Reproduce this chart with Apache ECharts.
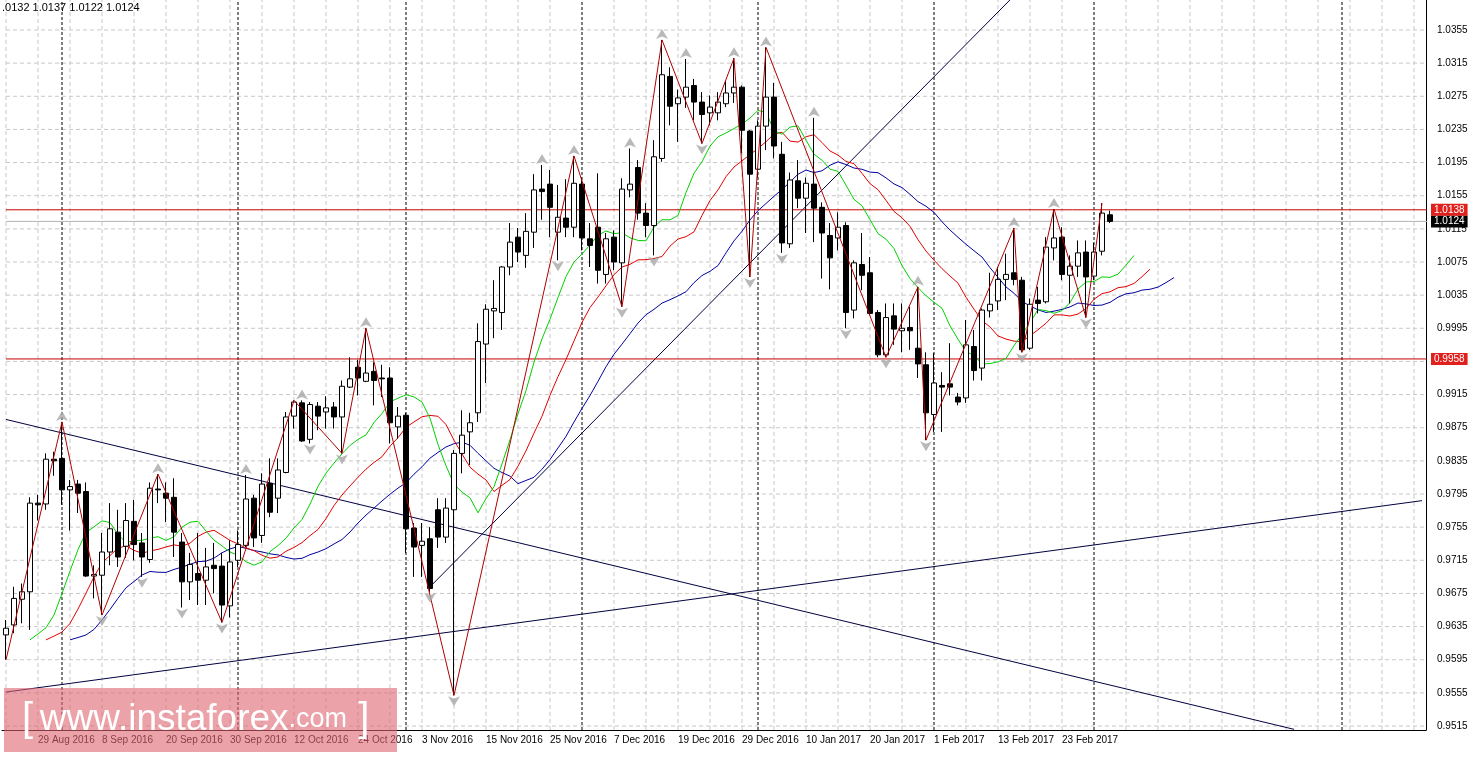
<!DOCTYPE html>
<html><head><meta charset="utf-8">
<script src="https://cdn.jsdelivr.net/npm/echarts@6/dist/echarts.min.js"></script>
<style>html,body{margin:0;padding:0;background:#fff}#c{width:1470px;height:757px}</style>
</head><body><div id="c"></div>
<script>
const openP=[.9625,.9637,.9668,.9677,.9784,.9783,.9837,.9838,.9800,.9807,
.9798,.9696,.9697,.9725,.9749,.9732,.9762,.9736,.9716,.9801,
.9796,.9791,.9737,.9689,.9699,.9691,.9709,.9708,.9660,.9715,
.9733,.9790,.9745,.9808,.9790,.9821,.9889,.9905,.9861,.9901,
.9894,.9900,.9888,.9924,.9948,.9931,.9943,.9935,.9935,.9876,
.9890,.9754,.9733,.9741,.9776,.9743,.9776,.9844,.9870,.9893,
.9976,1.0016,1.0014,1.0069,1.0105,1.0083,1.0111,1.0163,1.0169,1.0111,
1.0128,1.0117,1.0169,1.0103,1.0117,1.0060,1.0105,1.0074,1.0162,1.0189,
1.0134,1.0119,1.0200,1.0299,1.0266,1.0274,1.0288,1.0268,1.0255,1.0255,
1.0266,1.0279,1.0286,1.0233,1.0187,1.0239,1.0274,1.0205,1.0097,1.0173,
1.0152,1.0169,1.0141,1.0107,1.0104,1.0119,1.0017,1.0072,1.0062,1.0014,
.9963,1.0010,.9992,.9996,.9971,.9951,.9891,.9926,.9928,.9912,
.9911,.9973,.9947,1.0016,1.0028,1.0054,1.0062,1.0053,.9971,1.0029,
1.0027,1.0092,1.0105,1.0059,1.0070,1.0087,1.0058,1.0088,1.0132];
const closeP=[.9633,.9669,.9677,.9784,.9782,.9837,.9835,.9800,.9804,.9796,
.9696,.9698,.9725,.9753,.9719,.9763,.9734,.9719,.9802,.9800,
.9790,.9749,.9689,.9710,.9691,.9707,.9705,.9661,.9713,.9734,
.9789,.9742,.9807,.9773,.9824,.9888,.9906,.9859,.9903,.9889,
.9899,.9888,.9925,.9934,.9935,.9941,.9932,.9934,.9881,.9889,
.9753,.9731,.9738,.9681,.9743,.9778,.9844,.9866,.9881,.9979,
1.0018,1.0019,1.0069,1.0099,1.0087,1.0112,1.0162,1.0160,1.0141,1.0129,
1.0117,1.0170,1.0104,1.0095,1.0065,1.0103,1.0075,1.0163,1.0169,1.0134,
1.0119,1.0202,1.0301,1.0263,1.0273,1.0286,1.0268,1.0253,1.0262,1.0268,
1.0279,1.0286,1.0234,1.0181,1.0239,1.0274,1.0215,1.0098,1.0174,1.0152,
1.0170,1.0140,1.0110,1.0080,1.0117,1.0014,1.0074,1.0059,1.0013,.9963,
1.0008,.9994,.9995,.9992,.9952,.9893,.9929,.9924,.9924,.9906,
.9975,.9944,1.0017,1.0024,1.0054,1.0060,1.0054,.9969,1.0024,1.0025,
1.0093,1.0104,1.0060,1.0070,1.0086,1.0057,1.0087,1.0134,1.0124];
const lowP=[.9595,.9627,.9639,.9631,.9763,.9776,.9817,.9782,.9751,.9772,
.9695,.9669,.9649,.9709,.9707,.9718,.9715,.9695,.9712,.9784,
.9761,.9719,.9658,.9667,.9661,.9661,.9675,.9640,.9646,.9707,
.9731,.9731,.9736,.9767,.9772,.9820,.9874,.9858,.9856,.9872,
.9874,.9874,.9844,.9923,.9914,.9930,.9902,.9912,.9856,.9862,
.9724,.9695,.9695,.9677,.9730,.9736,.9552,.9820,.9830,.9882,
.9929,.9983,.9993,1.0059,1.0075,1.0068,1.0092,1.0126,1.0105,1.0077,
1.0105,1.0105,1.0089,1.0069,1.0049,1.0049,1.0065,1.0021,1.0153,1.0126,
1.0105,1.0083,1.0196,1.0240,1.0220,1.0261,1.0246,1.0218,1.0240,1.0246,
1.0262,1.0267,1.0206,1.0057,1.0177,1.0210,1.0200,1.0086,1.0092,1.0140,
1.0110,1.0099,1.0055,1.0042,1.0089,.9995,1.0007,1.0041,1.0011,.9960,
.9960,.9975,.9966,.9969,.9935,.9860,.9870,.9870,.9914,.9902,
.9905,.9932,.9932,1.0008,1.0017,1.0029,1.0047,.9966,.9969,1.0013,
1.0025,1.0077,1.0053,1.0025,1.0057,1.0008,1.0053,1.0083,1.0122];
const highP=[.9643,.9683,.9687,.9791,.9794,.9844,.9846,.9882,.9812,.9812,
.9809,.9709,.9748,.9784,.9776,.9784,.9788,.9748,.9809,.9819,
.9809,.9814,.9748,.9724,.9748,.9730,.9736,.9724,.9739,.9751,
.9818,.9794,.9820,.9838,.9838,.9894,.9908,.9908,.9906,.9906,
.9913,.9906,.9932,.9960,.9957,.9995,.9954,.9951,.9948,.9900,
.9893,.9760,.9760,.9755,.9790,.9790,.9848,.9896,.9893,1.0001,
1.0024,1.0053,1.0070,1.0122,1.0116,1.0134,1.0181,1.0192,1.0186,1.0168,
1.0175,1.0203,1.0177,1.0122,1.0182,1.0110,1.0113,1.0176,1.0212,1.0198,
1.0146,1.0222,1.0343,1.0310,1.0283,1.0320,1.0296,1.0280,1.0276,1.0280,
1.0294,1.0321,1.0288,1.0234,1.0246,1.0334,1.0291,1.0220,1.0183,1.0198,
1.0177,1.0249,1.0147,1.0122,1.0135,1.0123,1.0077,1.0110,1.0081,1.0017,
1.0025,1.0025,1.0025,1.0021,1.0045,.9966,.9965,.9942,.9977,.9917,
1.0005,.9993,1.0019,1.0062,1.0069,1.0085,1.0116,1.0057,1.0031,1.0045,
1.0105,1.0139,1.0117,1.0083,1.0101,1.0101,1.0098,1.0146,1.0137];
const zigIdx=[0,7,12,19,27,36,42,45,56,71,77,82,87,91,93,95,110,114,115,126,127,131,135,137];
const zigPrice=[.9595,.9882,.9649,.9819,.9640,.9908,.9844,.9995,.9552,1.0203,1.0021,1.0343,1.0218,1.0321,1.0057,1.0334,.9960,1.0045,.9860,1.0116,.9966,1.0139,1.0008,1.0146];
const fracUp=[7,19,30,37,45,67,71,78,82,85,91,95,101,114,126,131];
const fracDown=[12,17,22,27,38,42,53,56,69,77,81,87,93,97,105,110,115,127,135];
const yTicks=[0.9515,0.9555,0.9595,0.9635,0.9675,0.9715,0.9755,0.9795,0.9835,0.9875,0.9915,0.9955,0.9995,1.0035,1.0075,1.0115,1.0155,1.0195,1.0235,1.0275,1.0315,1.0355];
const trendA=[[0,0.9885],[161,0.9511]];
const trendB=[[0,0.9556],[177,0.9787]];
const trendC=[[53,0.9683],[127,1.0406]];
const levelRes=1.0138, levelSup=0.9958, lastPrice=1.0124;
const monthIdx=[7,29,50,72,94,116,136,167];
const NCAT=178;
const YMIN=0.95102, YMAX=1.03912;

const MON=['Jan','Feb','Mar','Apr','May','Jun','Jul','Aug','Sep','Oct','Nov','Dec'];
const dates=[];
let d=new Date(Date.UTC(2016,7,23));
while(dates.length<NCAT){const w=d.getUTCDay();if(w!==0&&w!==6)dates.push(d.getUTCDate()+' '+MON[d.getUTCMonth()]+' '+d.getUTCFullYear());d=new Date(d.getTime()+86400000);}

const candles=openP.map((o,i)=>[o,closeP[i],lowP[i],highP[i]]);
const med=highP.map((h,i)=>(h+lowP[i])/2);
function smma(n,shift){const out=new Array(NCAT).fill(null);let s=med[0];for(let i=0;i<med.length;i++){s=i===0?med[0]:(s*(n-1)+med[i])/n;if(i+shift<NCAT)out[i+shift]=+s.toFixed(5);}return out;}
const jaw=smma(13,8),teeth=smma(8,5),lips=smma(5,3);

const font='Liberation Sans';
const series=[];
function seg(data,color,dash,z,label){
  const s={type:'line',data:data,symbol:'none',showSymbol:false,silent:true,animation:false,z:z,
    lineStyle:{color:color,width:1,type:dash||'solid'}};
  if(label){s.endLabel=Object.assign({show:true,distance:5,fontSize:10,fontFamily:font,padding:[1,3]},label);}
  series.push(s);
}
const L=-0.5,R=NCAT-0.5;
yTicks.forEach(v=>seg([[L,v],[R,v]],'#c8c8c8',[4,3],1,{formatter:v.toFixed(4),color:'#000',distance:7}));
for(let i=0;i<NCAT;i+=4){if(monthIdx.indexOf(i)<0)seg([[i,YMIN],[i,YMAX]],'#c8c8c8',[4,3],1);}
monthIdx.forEach(i=>seg([[i,YMIN],[i,YMAX]],'#000',[3,2],2));
seg(trendA,'#000040',null,3);seg(trendB,'#000040',null,3);seg(trendC,'#000040',null,3);
seg([[L,lastPrice],[R,lastPrice]],'#b4b4b4',null,3,{formatter:lastPrice.toFixed(4),color:'#fff',backgroundColor:'#000',distance:4});
seg([[L,levelRes],[R,levelRes]],'#c80000',null,4,{formatter:levelRes.toFixed(4),color:'#fff',backgroundColor:'#e0201c',distance:4});
seg([[L,levelSup],[R,levelSup]],'#c80000',null,4,{formatter:levelSup.toFixed(4),color:'#fff',backgroundColor:'#e0201c',distance:4});
seg(jaw,'#0000a0',null,5);seg(teeth,'#e00000',null,5);seg(lips,'#00d000',null,5);
series.push({type:'candlestick',data:candles,barWidth:5,z:6,silent:true,
  itemStyle:{color:'#fff',color0:'#000',borderColor:'#000',borderColor0:'#000',borderWidth:1}});
seg(zigIdx.map((x,i)=>[x,zigPrice[i]]),'#b00000',null,7);
series.push({type:'scatter',data:fracUp.map(i=>[i,highP[i]]),symbol:'arrow',symbolSize:[9,10],symbolOffset:[0,-11],itemStyle:{color:'#a8a8a8'},z:7,silent:true});
series.push({type:'scatter',data:fracDown.map(i=>[i,lowP[i]]),symbol:'arrow',symbolRotate:180,symbolSize:[9,10],symbolOffset:[0,11],itemStyle:{color:'#a8a8a8'},z:7,silent:true});

const opt={
 animation:false,
 grid:{left:2,right:44,top:0,bottom:27},
 xAxis:{type:'category',data:dates,boundaryGap:true,
  axisLine:{lineStyle:{color:'#000'}},
  axisTick:{alignWithLabel:true,length:4,interval:(i)=>(i-4)%8===0&&i>=4&&i<=132,lineStyle:{color:'#000'}},
  axisLabel:{interval:(i)=>(i-4)%8===0&&i>=4&&i<=132,align:'left',color:'#000',fontSize:10,fontFamily:font,margin:5},
  splitLine:{show:false}},
 yAxis:{type:'value',position:'right',min:YMIN,max:YMAX,
  axisLine:{show:true,lineStyle:{color:'#000'}},axisTick:{show:false},axisLabel:{show:false},splitLine:{show:false}},
 series:series,
 graphic:[
  {type:'text',left:2,top:2,style:{text:'.0132 1.0137 1.0122 1.0124',fontSize:11,fontFamily:font,fill:'#000'},z:100},
  {type:'rect',shape:{x:4,y:688,width:393,height:64},style:{fill:'rgba(222,100,112,0.6)'},z:100},
  {type:'text',x:22,y:720,style:{text:'{b|[}  {w|www.instaforex}{c|.com}{b| ]}',verticalAlign:'middle',fill:'#fff',fontFamily:font,
   rich:{b:{fontSize:40,fill:'#fff',fontFamily:font},w:{fontSize:37,fill:'#fff',fontFamily:font},c:{fontSize:27,fill:'#fff',fontFamily:font}}},z:101}
 ]
};
echarts.init(document.getElementById('c')).setOption(opt);
</script></body></html>
